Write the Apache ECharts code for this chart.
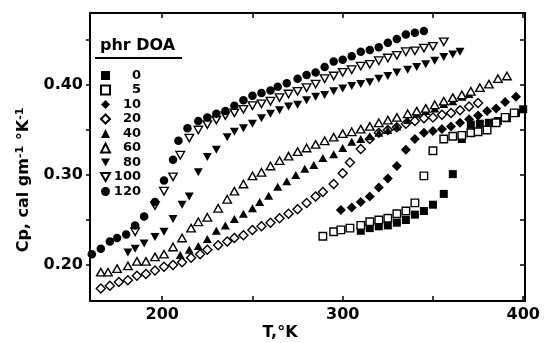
<!DOCTYPE html>
<html>
<head>
<meta charset="utf-8">
<script src="https://cdn.jsdelivr.net/npm/echarts@6/dist/echarts.min.js"></script>
<style>html,body{margin:0;padding:0;background:#fff;}#c{width:544px;height:343px;}</style>
</head>
<body>
<div id="c"></div>
<script>
// ---- data: [T (K), Cp (cal g^-1 K^-1)] ----
const seriesNames = ['0','5','10','20','40','60','80','100','120'];
const xTicks = [200,250,300,350,400];
const xLabels = [200,300,400];
const yTicks = [0.20,0.25,0.30,0.35,0.40,0.45];
const yLabels = [0.20,0.30,0.40];

const doa0 = [[310,0.238],[315,0.241],[320,0.243],[325,0.244],[330,0.247],[335,0.250],[340,0.256],[345,0.260],[350,0.267],[356,0.279],[361,0.301],[366,0.340],[371,0.356],[376,0.357],[381,0.358],[386,0.360],[391,0.363],[396,0.369],[400,0.373]];
const doa5 = [[289,0.232],[295,0.237],[299,0.239],[304,0.241],[310,0.244],[315,0.248],[320,0.250],[325,0.252],[330,0.257],[335,0.260],[340,0.269],[345,0.299],[350,0.327],[356,0.340],[361,0.343],[366,0.344],[371,0.347],[375,0.348],[380,0.350],[385,0.358],[390,0.364],[395,0.369]];
const doa10 = [[299,0.261],[305,0.264],[310,0.270],[315,0.276],[320,0.286],[325,0.296],[330,0.310],[335,0.328],[340,0.340],[345,0.347],[350,0.349],[355,0.351],[360,0.354],[365,0.358],[370,0.362],[375,0.366],[380,0.371],[385,0.374],[390,0.381],[396,0.387]];
const doa20 = [[166,0.174],[171,0.177],[176,0.181],[181,0.183],[186,0.188],[191,0.190],[196,0.194],[201,0.198],[206,0.200],[211,0.203],[216,0.208],[221,0.212],[225,0.217],[231,0.222],[236,0.226],[240,0.230],[245,0.233],[250,0.239],[255,0.243],[260,0.247],[265,0.252],[270,0.257],[275,0.262],[280,0.269],[285,0.276],[289,0.281],[295,0.290],[300,0.302],[304,0.314],[310,0.329],[315,0.340],[320,0.347],[325,0.350],[330,0.353],[335,0.357],[340,0.360],[345,0.363],[350,0.364],[355,0.367],[360,0.369],[365,0.372],[370,0.376],[375,0.380]];
const doa40 = [[210,0.211],[215,0.217],[220,0.221],[225,0.229],[230,0.238],[235,0.244],[240,0.251],[245,0.257],[250,0.263],[254,0.270],[259,0.277],[264,0.287],[269,0.293],[274,0.300],[279,0.307],[284,0.311],[289,0.319],[295,0.323],[300,0.330],[305,0.337],[310,0.340],[315,0.343],[320,0.347],[325,0.350],[330,0.354],[336,0.361],[341,0.368],[346,0.371],[351,0.374],[356,0.379],[361,0.382],[366,0.387],[370,0.390]];
const doa60 = [[166,0.192],[170,0.192],[175,0.196],[181,0.199],[186,0.204],[191,0.204],[196,0.209],[201,0.212],[206,0.220],[211,0.230],[216,0.241],[220,0.248],[225,0.253],[231,0.263],[236,0.273],[240,0.282],[245,0.290],[250,0.299],[255,0.303],[260,0.310],[265,0.316],[270,0.321],[275,0.326],[280,0.330],[285,0.334],[290,0.338],[295,0.342],[300,0.346],[305,0.348],[310,0.351],[315,0.354],[320,0.358],[325,0.361],[330,0.364],[336,0.368],[341,0.371],[346,0.374],[351,0.378],[356,0.382],[361,0.386],[366,0.389],[371,0.393],[376,0.397],[381,0.401],[386,0.407],[391,0.410]];
const doa80 = [[181,0.214],[185,0.218],[190,0.224],[196,0.231],[201,0.237],[206,0.251],[211,0.267],[215,0.276],[220,0.303],[225,0.320],[230,0.328],[236,0.342],[240,0.348],[245,0.352],[250,0.357],[255,0.363],[260,0.368],[265,0.372],[270,0.376],[275,0.378],[280,0.383],[285,0.387],[290,0.389],[295,0.393],[300,0.396],[305,0.399],[310,0.401],[315,0.403],[320,0.407],[325,0.410],[330,0.414],[336,0.417],[341,0.420],[346,0.423],[351,0.427],[356,0.431],[361,0.434],[365,0.437]];
const doa100 = [[185,0.237],[196,0.266],[201,0.282],[206,0.298],[210,0.322],[215,0.341],[220,0.350],[225,0.356],[230,0.361],[235,0.366],[240,0.369],[245,0.373],[250,0.377],[255,0.379],[260,0.382],[265,0.386],[270,0.390],[275,0.393],[280,0.397],[285,0.401],[290,0.407],[295,0.410],[300,0.414],[305,0.417],[310,0.421],[315,0.423],[320,0.427],[325,0.430],[330,0.433],[335,0.437],[340,0.438],[345,0.441],[350,0.443],[356,0.448]];
const doa120 = [[161,0.212],[166,0.218],[171,0.226],[175,0.230],[180,0.234],[185,0.244],[190,0.254],[196,0.270],[201,0.294],[206,0.317],[209,0.338],[214,0.352],[220,0.360],[225,0.364],[230,0.368],[235,0.371],[240,0.377],[245,0.383],[250,0.388],[255,0.391],[260,0.394],[264,0.398],[269,0.402],[275,0.407],[280,0.411],[285,0.414],[290,0.420],[295,0.426],[300,0.428],[305,0.432],[310,0.437],[315,0.439],[320,0.442],[325,0.447],[330,0.451],[335,0.456],[340,0.458],[345,0.460]];

const seriesData = [doa0, doa5, doa10, doa20, doa40, doa60, doa80, doa100, doa120];

// ---- styling ----
const FONT = 'DejaVu Sans';
const TRI_DOWN = 'path://M0,0L10,0L5,9Z';
const filled = {color:'#000', borderColor:'#000', borderWidth:0};
const open = {color:'#fff', borderColor:'#000', borderWidth:1.4};
const markStyles = [
  {symbol:'rect', size:8, style:filled},
  {symbol:'rect', size:7.5, style:open},
  {symbol:'diamond', size:10, style:filled},
  {symbol:'diamond', size:9, style:open},
  {symbol:'triangle', size:[9,8], style:filled},
  {symbol:'triangle', size:[8.5,7.5], style:open},
  {symbol:TRI_DOWN, size:[9,8], style:filled},
  {symbol:TRI_DOWN, size:[8.5,7.5], style:open},
  {symbol:'circle', size:8.5, style:filled}
];

const chart = echarts.init(document.getElementById('c'), null, {renderer:'canvas'});
const labelStyle = {color:'#000', fontFamily:FONT, fontWeight:'bold', fontSize:16};
const axisLine = {show:true, onZero:false, lineStyle:{color:'#000', width:2}};

const option = {
  animation:false,
  backgroundColor:'#fff',
  grid:{left:90, top:13, width:435, height:288, containLabel:false},
  xAxis:[
    {type:'value', position:'bottom', min:160, max:401, axisLine:axisLine,
     axisTick:{show:true, inside:true, length:5, customValues:xTicks, lineStyle:{color:'#000', width:1.5}},
     axisLabel:Object.assign({show:true, margin:6, customValues:xLabels}, labelStyle),
     splitLine:{show:false}},
    {type:'value', position:'top', min:160, max:401, axisLine:axisLine,
     axisTick:{show:true, inside:true, length:5, customValues:xTicks, lineStyle:{color:'#000', width:1.5}},
     axisLabel:{show:false}, splitLine:{show:false}}
  ],
  yAxis:[
    {type:'value', position:'left', min:0.16, max:0.48, axisLine:axisLine,
     axisTick:{show:true, inside:false, length:4, customValues:yTicks, lineStyle:{color:'#000', width:1.5}},
     axisLabel:Object.assign({show:true, margin:7, customValues:yLabels, formatter:v=>v.toFixed(2)}, labelStyle),
     splitLine:{show:false}},
    {type:'value', position:'right', min:0.16, max:0.48, axisLine:axisLine,
     axisTick:{show:true, inside:true, length:5, customValues:yTicks, lineStyle:{color:'#000', width:1.5}},
     axisLabel:{show:false}, splitLine:{show:false}}
  ],
  legend:{
    data:seriesNames, orient:'vertical', left:100, top:69,
    itemWidth:9, itemHeight:9, itemGap:1.5, padding:0,
    formatter:n=>'{r|'+n+'}',
    textStyle:{color:'#000', fontFamily:FONT, fontWeight:'bold', fontSize:13,
      rich:{r:{width:26, align:'right', color:'#000', fontFamily:FONT, fontWeight:'bold', fontSize:13, lineHeight:11.5}}}
  },
  graphic:[
    {type:'text', left:100, top:38, style:{text:'phr DOA', fill:'#000', font:'bold 16px "DejaVu Sans"'}},
    {type:'line', shape:{x1:95, y1:58, x2:182, y2:58}, style:{stroke:'#000', lineWidth:2}},
    {type:'text', x:280, y:333, style:{text:'T,°K', fill:'#000', font:'bold 16px "DejaVu Sans"', align:'center', verticalAlign:'middle'}},
    {type:'text', x:24, y:180, rotation:Math.PI/2,
     style:{text:'Cp, cal gm{s|-1} °K{s|-1}', fill:'#000', font:'bold 16px "DejaVu Sans"', align:'center', verticalAlign:'middle',
       rich:{s:{fontSize:11, fontWeight:'bold', fontFamily:FONT, fill:'#000', padding:[0,0,8,0]}}}}
  ],
  series: seriesNames.map((name,i)=>({
    name:name, type:'scatter', xAxisIndex:0, yAxisIndex:0,
    data:seriesData[i],
    symbol:markStyles[i].symbol, symbolSize:markStyles[i].size,
    itemStyle:Object.assign({opacity:1}, markStyles[i].style),
    emphasis:{disabled:true}
  }))
};
chart.setOption(option);
</script>
</body>
</html>
